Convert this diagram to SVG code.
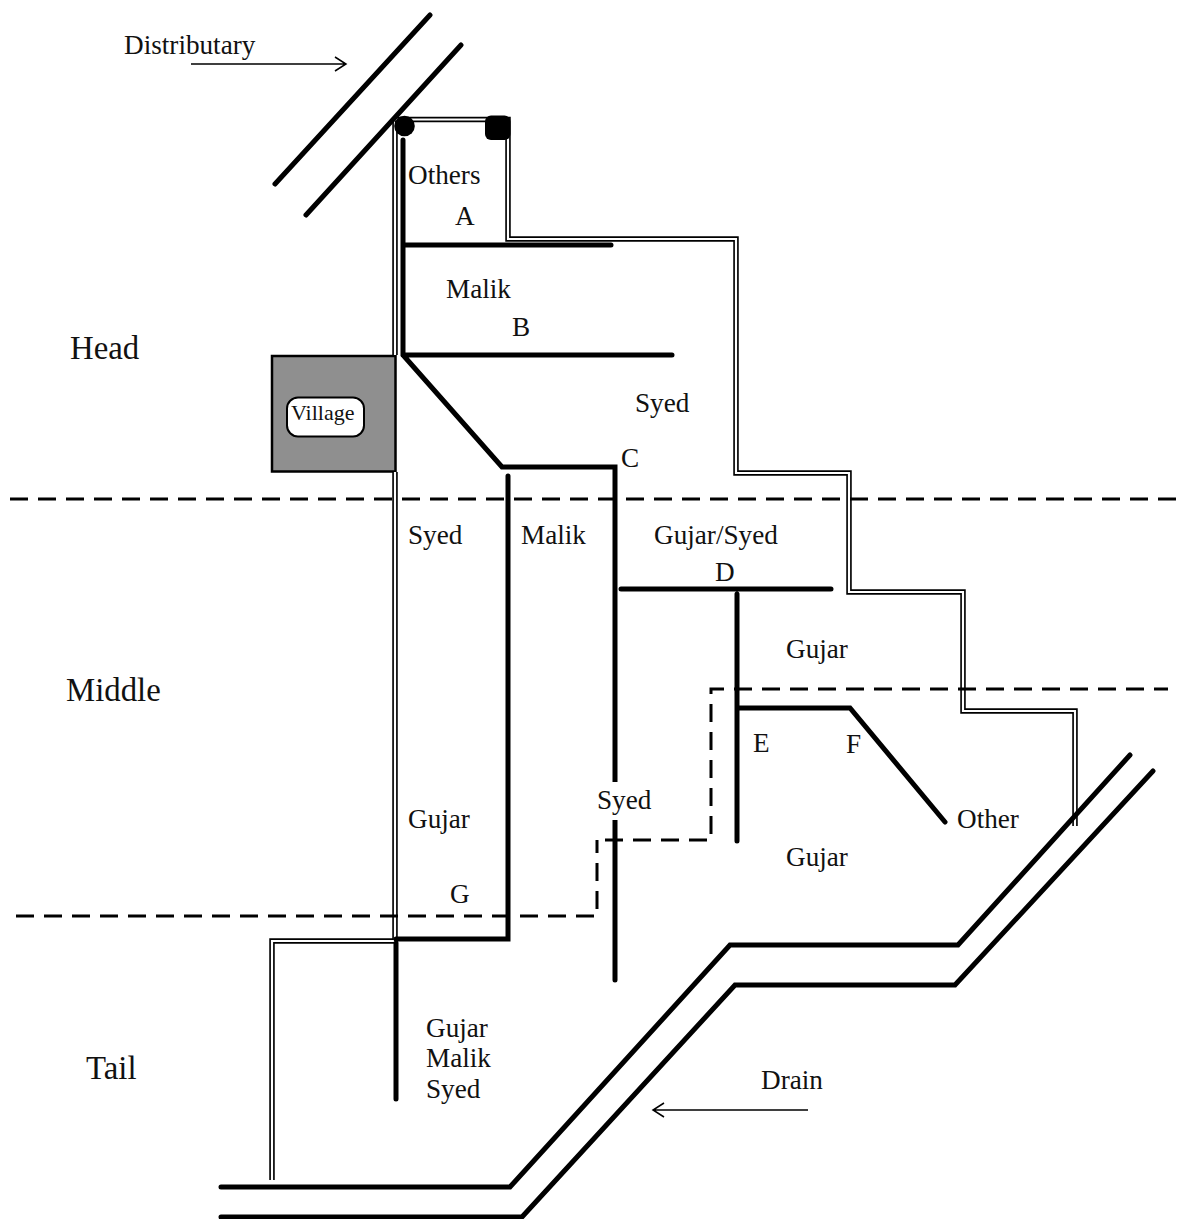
<svg xmlns="http://www.w3.org/2000/svg" width="1179" height="1219" viewBox="0 0 1179 1219">
<style>
text{font-family:"Liberation Serif","Times New Roman",serif;fill:#111;font-size:27.2px}
.h{font-size:32.8px}
.v{font-size:22px}
.t{fill:none;stroke:#000;stroke-width:5;stroke-linecap:round;stroke-linejoin:miter}
.o{fill:none;stroke:#000;stroke-width:5.500;stroke-linejoin:miter}
.i{fill:none;stroke:#fff;stroke-width:2.200;stroke-linejoin:miter}
.d{fill:none;stroke:#000;stroke-width:3;stroke-dasharray:18 10}
.a{fill:none;stroke:#000;stroke-width:1.500}
</style>
<rect width="1179" height="1219" fill="#fff"/>
<g id="village"><rect x="272" y="356" width="123.500" height="115.500" fill="#8f8f8f" stroke="#000" stroke-width="2.500"/><rect x="287" y="397.500" width="77" height="39" rx="11" fill="#fff" stroke="#000" stroke-width="2"/><text class="v" x="291" y="420">Village</text></g>
<g id="connectors">
<path class="o" d="M395 118V355M395 472V940M395 941H272V1180"/><path class="i" d="M395 118V355M395 472V940M395 941H272V1180"/>
<path class="o" d="M395 119.500H508V239H736V473H849V592H963V711H1075V826"/><path class="i" d="M395 119.500H508V239H736V473H849V592H963V711H1075V826"/>
<path class="t" d="M430 15 275 184M461 45 306 215M1130 755 958 945H730L510 1187H221M1153 771 955 985H735L522 1217H221"/>
<path class="t" d="M403 140V355L502 467H615V980M403 245H611M403 355H672M508 476V939H396M396 943V1099M621 589H831M737 594V841M737 708H850L945 822"/>
<path class="d" d="M10 499H1179M16 916H597V840M605 840H711V689H1168"/>
<path class="a" d="M191 64H345M335 57 346 64 335 71M808 1110H653M664 1103 653 1110 664 1117"/>
</g>
<rect x="596" y="782" width="56" height="38" fill="#fff"/>
<g id="gates"><circle cx="404.500" cy="126" r="10.300"/><rect x="485" y="115.500" width="25.500" height="24.500" rx="6"/></g>
<g id="labels">
<text x="124" y="54">Distributary</text>
<text x="408" y="184">Others</text><text x="455" y="225">A</text>
<text x="446" y="298">Malik</text><text x="512" y="336">B</text>
<text x="635" y="412">Syed</text><text x="621" y="467">C</text>
<text x="408" y="544">Syed</text><text x="521" y="544">Malik</text><text x="654" y="544">Gujar/Syed</text>
<text x="715" y="581">D</text><text x="786" y="658">Gujar</text>
<text x="753" y="752">E</text><text x="846" y="753">F</text><text x="597" y="809">Syed</text>
<text x="957" y="828">Other</text><text x="786" y="866">Gujar</text><text x="408" y="828">Gujar</text><text x="450" y="903">G</text>
<text x="426" y="1037">Gujar</text><text x="426" y="1067">Malik</text><text x="426" y="1098">Syed</text>
<text x="761" y="1089">Drain</text>
<text class="h" x="70" y="359">Head</text><text class="h" x="66" y="701">Middle</text><text class="h" x="86" y="1079">Tail</text>
</g>
</svg>
